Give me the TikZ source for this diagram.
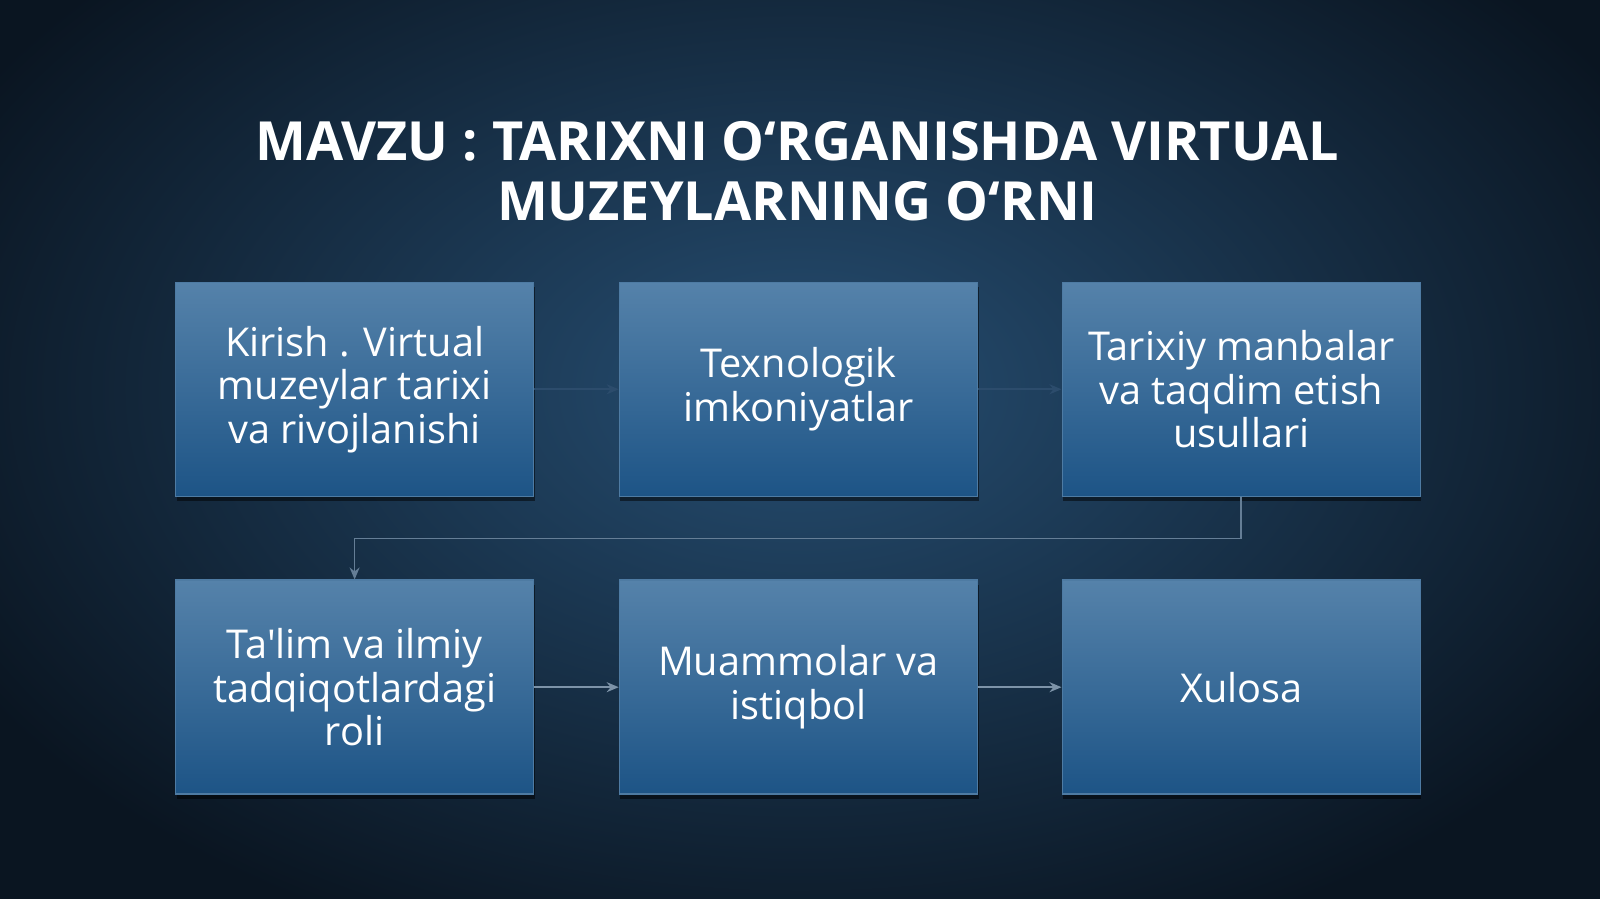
\documentclass[tikz,border=0pt]{standalone}
\usepackage{fontspec}
\setmainfont{Open Sans}[Ligatures=TeXOff]
\usetikzlibrary{arrows.meta,shadows}
\definecolor{bgdark}{HTML}{0A1521}
\definecolor{bglight}{HTML}{264E72}
\definecolor{boxtop}{HTML}{5582AA}
\definecolor{boxbot}{HTML}{1D5486}
\definecolor{boxline}{HTML}{4E7BA3}
\definecolor{linkdim}{HTML}{2C4C6C}
\definecolor{linklight}{HTML}{7D93A8}
\begin{document}
\begin{tikzpicture}[
  topic/.style={minimum width=3.582cm, minimum height=2.14cm, inner sep=0pt,
    top color=boxtop, bottom color=boxbot, draw=boxline, line width=0.4pt,
    drop shadow={shadow xshift=0.01cm, shadow yshift=-0.05cm, opacity=0.5,
      fill=black, draw=none},
    text=white, align=center, font=\fontsize{11.3}{12.35}\selectfont},
  link/.style={-{Stealth[length=1.2mm,width=1mm]}, line width=0.5pt}
]
  % background
  \useasboundingbox (0,0) rectangle (16,-8.99);
  \fill[bgdark] (0,0) rectangle (16,-8.99);
  \shade[inner color=bglight, outer color=bgdark] (8,-3.9) ellipse (9.5 and 6);

  \node[text=white, align=center, font=\bfseries\fontsize{15.35}{17.2}\selectfont]
    (title) at (7.974,-1.714) {MAVZU : TARIXNI O‘RGANISHDA VIRTUAL\\MUZEYLARNING O‘RNI};

  \coordinate (c1) at (3.546,-3.893);
  \coordinate (c2) at (7.985,-3.893);
  \coordinate (c3) at (12.413,-3.893);
  \coordinate (c4) at (3.546,-6.872);
  \coordinate (c5) at (7.985,-6.872);
  \coordinate (c6) at (12.413,-6.872);

  \node[topic] (kirish) at (c1) {Kirish . Virtual\\muzeylar tarixi\\va rivojlanishi};
  \node[topic] (texno) at (c2) {Texnologik\\imkoniyatlar};
  \node[topic] (manba) at (c3) {Tarixiy manbalar\\va taqdim etish\\usullari};
  \node[topic] (talim) at (c4) {Ta'lim va ilmiy\\tadqiqotlardagi\\roli};
  \node[topic] (muammo) at (c5) {Muammolar va\\istiqbol};
  \node[topic] (xulosa) at (c6) {Xulosa};

  \draw[link, linkdim] (kirish) -- (texno);
  \draw[link, linkdim] (texno) -- (manba);
  \draw[link, linklight!70!linkdim] (manba.south) -- ++(0,-0.415) -| (talim.north);
  \draw[link, linklight] (talim) -- (muammo);
  \draw[link, linklight] (muammo) -- (xulosa);
\end{tikzpicture}
\end{document}
